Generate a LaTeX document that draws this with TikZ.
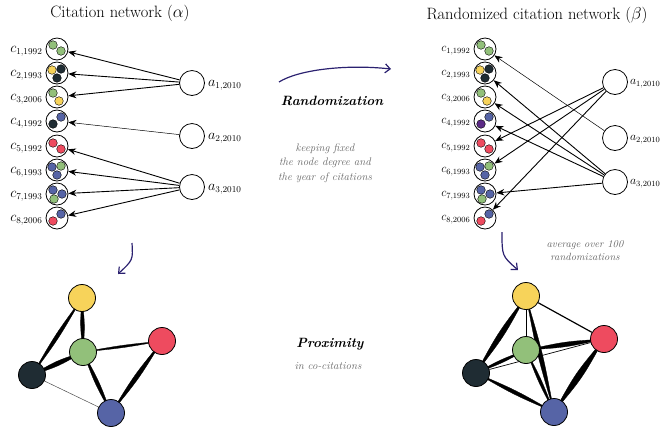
\documentclass[tikz,border=0pt]{standalone}
\usepackage{tikz}
\usetikzlibrary{arrows.meta,calc,backgrounds}

\definecolor{pgreen}{HTML}{92C07A}
\definecolor{pyellow}{HTML}{F7D35A}
\definecolor{pred}{HTML}{EE4B5F}
\definecolor{pdark}{HTML}{1F2C33}
\definecolor{pblue}{HTML}{5664A6}
\definecolor{ppurple}{HTML}{5B2A86}
\definecolor{navyarrow}{HTML}{2B2170}

% lens shaped co-citation edge: from, to, bulge
\newcommand{\lens}[3]{%
  \filldraw[black, line width=0.3pt] (#1.center)
    .. controls ($(#1.center)!0.5!(#2.center)!#3!90:(#2.center)$) .. (#2.center)
    .. controls ($(#1.center)!0.5!(#2.center)!#3!-90:(#2.center)$) .. (#1.center) -- cycle;}

\begin{document}
\begin{tikzpicture}[
  x=1bp, y=-1bp,
  cite/.style={circle, draw, line width=0.8pt, minimum size=22bp, inner sep=0pt, fill=white},
  author/.style={circle, draw, line width=0.8pt, minimum size=25bp, inner sep=0pt, fill=white},
  labl/.style={font=\fontsize{13.5}{15}\selectfont, inner sep=1pt},
  labr/.style={font=\fontsize{12}{14}\selectfont, inner sep=1pt},
  pdot/.style={draw, line width=0.4pt},
  link/.style={-{Stealth[length=8bp,width=6.5bp]}, line width=0.9pt},
  weak/.style={link, line width=0.5pt},
  flow/.style={-{Straight Barb[length=5bp,width=9bp]}, draw=navyarrow, line width=1.2pt},
  vertex/.style={circle, draw, line width=0.8pt, minimum size=27bp, inner sep=0pt},
  ttl/.style={font=\fontsize{16.5}{19}\selectfont},
  hdr/.style={font=\fontsize{13.5}{15}\selectfont\bfseries\itshape},
  note/.style={font=\fontsize{11}{14.5}\selectfont\itshape, text=black!60, align=center}
]
\useasboundingbox (0,0) rectangle (662,428);

% titles
\node[ttl] (tleft) at (120,13) {Citation network ($\alpha$)};
\node[ttl] (tright) at (537,15) {Randomized citation network ($\beta$)};

% cited papers, both networks
\foreach \i/\yr/\y in {1/1992/49,2/1993/73,3/2006/97,4/1992/121,5/1992/146,6/1993/170,7/1993/194,8/2006/218}{
  \node[cite] (L\i) at (57,\y) {};
  \node[labl, anchor=east] (Lt\i) at ([xshift=-2bp,yshift=-2bp]L\i.west) {$c_{\i,\yr}$};
  \node[cite] (R\i) at (485,\y) {};
  \node[labr, anchor=east] (Rt\i) at ([xshift=-2bp,yshift=-2bp]R\i.west) {$c_{\i,\yr}$};
}

% citing papers
\foreach \i/\y/\z in {1/83/82,2/136/138,3/187/182}{
  \node[author] (La\i) at (192,\y) {};
  \node[labl, anchor=west] (Lat\i) at ([xshift=2bp,yshift=-2bp]La\i.east) {$a_{\i,2010}$};
  \node[author] (Ra\i) at (615,\z) {};
  \node[labr, anchor=west] (Rat\i) at ([xshift=1bp,yshift=-2bp]Ra\i.east) {$a_{\i,2010}$};
}

% authors inside the cited papers
\foreach \s in {L,R}{
  \foreach \n/\dx/\dy/\col in {1/-4/-4/pgreen, 1/4/2/pgreen,
      2/-5/-3/pyellow, 2/4/-4/pdark, 2/0/5/pdark,
      3/-4/-4/pgreen, 3/2/4/pyellow,
      4/4/-4/pblue,
      5/-4/-3/pred, 5/4/3/pred,
      6/-5/-3/pblue, 6/4/-4/pgreen, 6/0/5/pblue,
      7/-4/-4/pblue, 7/5/0/pblue, 7/-3/5/pgreen,
      8/4/-4/pblue, 8/-4/3/pred}
    \filldraw[pdot, fill=\col] ($(\s\n)+(\dx,\dy)$) circle[radius=4.3bp];
}
\filldraw[pdot, fill=pdark] ($(L4)+(-4,3)$) circle[radius=4.3bp];
\filldraw[pdot, fill=ppurple] ($(R4)+(-4,3)$) circle[radius=4.3bp];

% citations
\draw[link] (La1) -- (L1);
\draw[link] (La1) -- (L2);
\draw[link] (La1) -- (L3);
\draw[weak] (La2) -- (L4);
\foreach \i in {5,...,8} \draw[link] (La3) -- (L\i);

\draw[weak] (Ra2) -- (R1);
\foreach \i in {5,6,8} \draw[link] (Ra1) -- (R\i);
\foreach \i in {2,3,4,7} \draw[link] (Ra3) -- (R\i);

% middle texts and arrows
\coordinate (rs) at (279,82);
\coordinate (re) at (391,69);
\draw[flow] (rs) .. controls (298,70) and (345,64) .. (re);
\node[hdr] (rand) at (332,101) {Randomization};
\node[note] (keep) at (325,163) {keeping fixed\\the node degree and\\the year of citations};

\coordinate (ls) at (132,243);
\coordinate (le) at (118,274);
\draw[flow] (ls) .. controls (133,260) .. (le);
\coordinate (qs) at (502,232);
\coordinate (qe) at (518,270);
\draw[flow] (qs) .. controls (502,256) .. (qe);
\node[note, font=\fontsize{10.5}{13}\selectfont\itshape] (avg) at (585,251) {average over 100\\randomizations};

\node[hdr] (prox) at (330,344) {Proximity};
\node[note] (inco) at (328,366) {in co-citations};

% proximity, citation network
\node[vertex, fill=pyellow] (ly) at (82,298) {};
\node[vertex, fill=pgreen] (lg) at (83,352) {};
\node[vertex, fill=pred] (lr) at (162,341) {};
\node[vertex, fill=pdark] (ld) at (32,375) {};
\node[vertex, fill=pblue] (lb) at (111,413) {};
\begin{scope}[on background layer]
  \lens{ly}{lg}{2.5bp}
  \lens{ly}{ld}{2.5bp}
  \lens{lg}{ld}{3bp}
  \lens{lg}{lr}{1.5bp}
  \lens{lg}{lb}{2.5bp}
  \lens{lr}{lb}{3bp}
  \draw[line width=0.5pt, black!70] (ld) -- (lb);
\end{scope}

% proximity, randomized network
\node[vertex, fill=pyellow] (ry) at (526,296) {};
\node[vertex, fill=pgreen] (rg) at (526,350) {};
\node[vertex, fill=pred] (rr) at (604,339) {};
\node[vertex, fill=pdark] (rd) at (476,373) {};
\node[vertex, fill=pblue] (rb) at (554,412) {};
\begin{scope}[on background layer]
  \lens{ry}{rd}{3.6bp}
  \lens{ry}{rb}{3bp}
  \lens{rg}{rr}{3bp}
  \lens{rg}{rd}{2bp}
  \lens{rg}{rb}{2bp}
  \lens{rd}{rb}{2.5bp}
  \lens{rr}{rb}{4.2bp}
  \draw[line width=1pt] (ry) -- (rg);
  \draw[line width=1.2pt] (ry) -- (rr);
  \draw[line width=0.7pt] (rd) -- (rr);
\end{scope}
\end{tikzpicture}
\end{document}
